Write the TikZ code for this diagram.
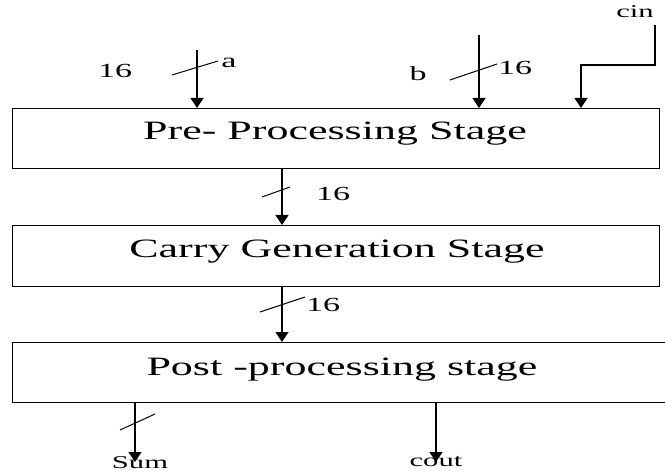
\documentclass[tikz,border=0pt]{standalone}
\usepackage{fontspec}
\setmainfont{Liberation Serif}
\usetikzlibrary{arrows.meta}
\newcommand{\stg}[1]{\scalebox{1.66}[1]{\fontsize{26.5}{30}\selectfont #1}}
\newcommand{\lbl}[1]{\scalebox{1.7}[1]{\fontsize{20}{22}\selectfont #1}}
\newcommand{\slbl}[1]{\scalebox{1.7}[1]{\fontsize{18}{20}\selectfont #1}}
\tikzset{
  stagebox/.style={draw, line width=1.2pt, minimum width=647pt, minimum height=60pt, inner sep=0pt, anchor=north west},
  stagetext/.style={inner sep=0pt, anchor=base},
  sig/.style={line width=1.2pt, -{Triangle[width=13pt,length=10pt]}},
  bus/.style={line width=1pt},
  txt/.style={inner sep=0pt},
}
\begin{document}
\begin{tikzpicture}[x=1pt,y=-1pt]
\useasboundingbox (0,0) rectangle (665,476);
\clip (0,0) rectangle (665,476);
% boxes
\node[stagebox] (p1) at (12,108) {};
\node[stagebox, minimum height=61pt] (p2) at (12,225) {};
\node[stagebox, minimum width=670pt] (p3) at (12,342) {};
\node[stagetext] (t1) at (335,140) {\stg{Pre- Processing Stage}};
\node[stagetext] (t2) at (337,258) {\stg{Carry Generation Stage}};
\node[stagetext] (t3) at (342,375) {\stg{Post -processing stage}};
% input a
\coordinate (a0) at (197,50);
\coordinate (a1) at (197,108);
\draw[sig] (a0) -- (a1);
\coordinate (sa1) at (172,75); \coordinate (sa2) at (218,61);
\draw[bus] (sa1) -- (sa2);
\node[txt] (n16a) at (115,71) {\lbl{16}};
\node[txt] (la) at (229,63) {\lbl{a}};
% input b
\coordinate (b0) at (479,35);
\coordinate (b1) at (479,108);
\draw[sig] (b0) -- (b1);
\coordinate (sb1) at (450,80); \coordinate (sb2) at (497,64);
\draw[bus] (sb1) -- (sb2);
\node[txt] (lb) at (418,74) {\lbl{b}};
\node[txt] (n16b) at (515,68) {\lbl{16}};
% cin
\node[txt] (lcin) at (635,12) {\slbl{cin}};
\coordinate (c0) at (655,25);
\coordinate (c1) at (581,108);
\draw[sig] (c0) -- (655,65) -- (581,65) -- (c1);
% stage 1 -> 2
\coordinate (m10) at (282,168);
\coordinate (m11) at (282,225);
\draw[sig] (m10) -- (m11);
\coordinate (s11) at (262,197); \coordinate (s12) at (290,187);
\draw[bus] (s11) -- (s12);
\node[txt] (n16c) at (333,194) {\lbl{16}};
% stage 2 -> 3
\coordinate (m20) at (282,286);
\coordinate (m21) at (282,342);
\draw[sig] (m20) -- (m21);
\coordinate (s21) at (260,312); \coordinate (s22) at (305,297);
\draw[bus] (s21) -- (s22);
\node[txt] (n16d) at (323,305) {\lbl{16}};
% outputs
\coordinate (o10) at (135,402);
\coordinate (o11) at (135,462);
\draw[sig] (o10) -- (o11);
\coordinate (s31) at (120,430); \coordinate (s32) at (155,414);
\draw[bus] (s31) -- (s32);
\node[txt] (lsum) at (140,463) {\slbl{Sum}};
\coordinate (o20) at (436,402);
\coordinate (o21) at (436,462);
\draw[sig] (o20) -- (o21);
\node[txt] (lcout) at (436,462) {\slbl{cout}};
\end{tikzpicture}
\end{document}
